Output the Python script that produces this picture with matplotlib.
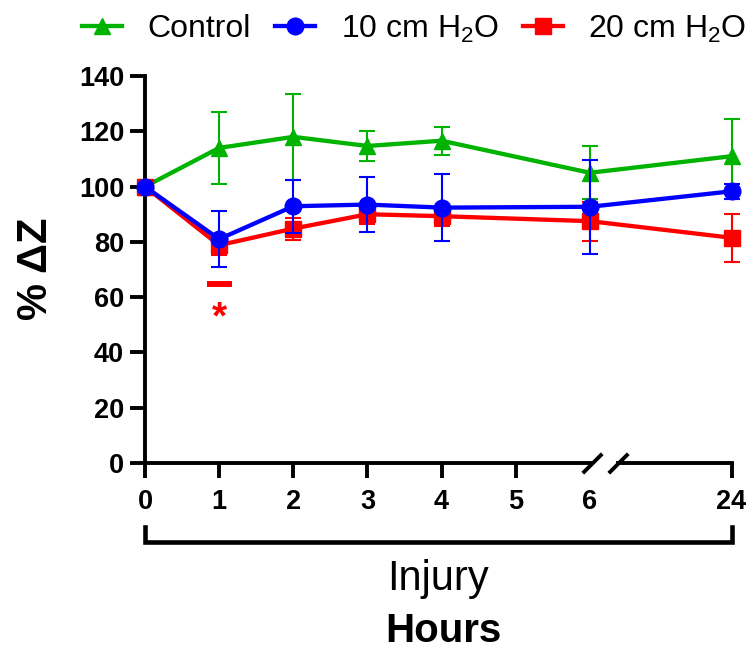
import matplotlib
matplotlib.use("Agg")
import matplotlib.pyplot as plt
import numpy as np

plt.rcParams['font.family'] = ['Liberation Sans', 'DejaVu Sans']
plt.rcParams['mathtext.fontset'] = 'custom'
plt.rcParams['mathtext.rm'] = 'Liberation Sans'
plt.rcParams['mathtext.it'] = 'Liberation Sans:italic'
plt.rcParams['mathtext.bf'] = 'Liberation Sans:bold'

# data
hours = [0, 1, 2, 3, 4, 6, 24]
hour_labels = ['0', '1', '2', '3', '4', '5', '6', '24']

control = [100, 114, 118, 114.7, 116.6, 105, 111]
control_err = [0, 13, 15.5, 5.4, 5, 9.6, 13.4]

h2o_10 = [100, 81, 92.9, 93.5, 92.4, 92.7, 98.3]
h2o_10_err = [0, 10, 9.6, 9.8, 12, 17, 2.8]

h2o_20 = [100, 78.8, 84.8, 90, 89.3, 87.5, 81.5]
h2o_20_err = [0, 3.6, 4, 3.5, 3.5, 7, 8.6]

# broken x axis: 0-6 linear, 24 h drawn just after the break
POS_24 = 7.91


def xpos(h):
    return np.array([x if x <= 6 else POS_24 for x in h], dtype=float)


x = xpos(hours)

fig = plt.figure(figsize=(7.52, 6.55), dpi=100)
ax = fig.add_axes([0.1928, 0.2931, 0.7859, 0.5908])

series = [
    (control, control_err, '#00b300', '^', 'Control'),
    (h2o_20, h2o_20_err, '#ff0000', 's', '20 cm H$_2$O'),
    (h2o_10, h2o_10_err, '#0000ff', 'o', '10 cm H$_2$O'),
]
handles = {}
for i, (y, e, c, m, lab) in enumerate(series):
    z = 3 + i * 2
    ax.errorbar(x, y, yerr=e, fmt='none', ecolor=c, elinewidth=1.5,
                capsize=5.6, capthick=1.5, zorder=z, clip_on=False)
    ln, = ax.plot(x, y, color=c, lw=3.1, marker=m, ms=12 if m != 's' else 11,
                  label=lab, zorder=z + 1, clip_on=False)
    handles[lab] = ln

ax.set_xlim(0, 7.97)
ax.set_ylim(0, 140)
ax.set_yticks(range(0, 141, 20))
ax.set_xticks(list(range(0, 7)) + [POS_24])
ax.set_xticklabels(hour_labels)

for s in ['top', 'right', 'bottom']:
    ax.spines[s].set_visible(False)
ax.spines['left'].set_linewidth(2.8)
ax.tick_params(axis='both', width=2.8, length=11, labelsize=19.5, direction='out')
ax.tick_params(axis='y', pad=4)
ax.tick_params(axis='x', pad=8)
for lbl in ax.get_xticklabels() + ax.get_yticklabels():
    lbl.set_fontweight('bold')
ax.xaxis.get_major_ticks()[6].tick1line.set_visible(False)

# x axis line with break marks
ax.plot([0, 6.03], [0, 0], color='k', lw=2.8, clip_on=False, zorder=2,
        solid_capstyle='butt')
ax.plot([6.38, POS_24], [0, 0], color='k', lw=2.8, clip_on=False, zorder=2,
        solid_capstyle='projecting')
ax.plot([6.03, 6.38], [0, 0], marker=[(-1, -1), (1, 1)], ms=14, mew=2.8,
        mec='k', ls='none', clip_on=False, zorder=2)

# bracket under the axis
trans = ax.get_xaxis_transform()
ax.plot([0, 0, POS_24, POS_24], [-0.165, -0.205, -0.205, -0.165], color='k',
        lw=3.3, transform=trans, clip_on=False, solid_joinstyle='miter',
        solid_capstyle='projecting')

# significance mark at 1 h
ax.plot([0.836, 1.173], [64.7, 64.7], color='#ff0000', lw=4.3,
        solid_capstyle='butt', clip_on=False)
ax.text(1.0, 48.5, '*', color='#ff0000', fontsize=28, fontweight='bold',
        ha='center', va='baseline')

fig.text(0.583, 1 - 590 / 655, 'Injury', fontsize=30, ha='center', va='baseline')
fig.text(0.590, 1 - 642 / 655, 'Hours', fontsize=29, fontweight='bold',
         ha='center', va='baseline')
fig.text(36 / 752, 1 - 269 / 655, '% ΔZ', fontsize=30, fontweight='bold',
         rotation=90, ha='center', va='center')

order = ['Control', '10 cm H$_2$O', '20 cm H$_2$O']
fig.legend([handles[k] for k in order], order, loc='center',
           bbox_to_anchor=(0.551, 1 - 29 / 655), ncol=3, frameon=False,
           fontsize=23, handlelength=1.25, handletextpad=0.8,
           columnspacing=0.75, borderpad=0, borderaxespad=0)

fig.savefig('out.png', dpi=100)
